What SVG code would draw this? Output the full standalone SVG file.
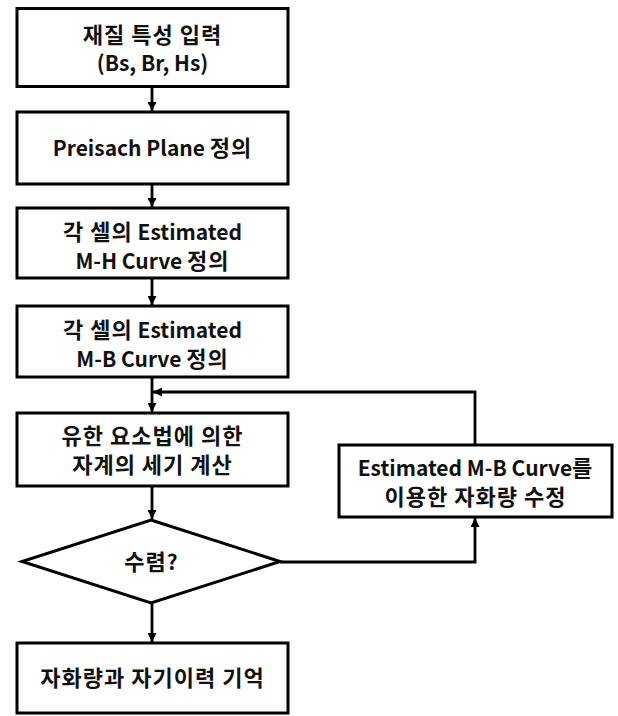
<svg xmlns="http://www.w3.org/2000/svg" width="618" height="716" viewBox="0 0 618 716">
<style>
.box{fill:#fff;stroke:#000;stroke-width:3}
.t{font-family:"Noto Sans CJK KR","Noto Sans",sans-serif;font-weight:bold;font-size:21px;fill:#111;text-anchor:middle}
.k{font-size:22px;letter-spacing:1px}
.c{fill:none;stroke:#000;stroke-width:2.8}
</style>
<defs>
<marker id="ah" viewBox="0 0 10 10" refX="10" refY="5" markerWidth="9" markerHeight="9" markerUnits="userSpaceOnUse" orient="auto">
<path d="M0,0 L10,5 L0,10 z" fill="#000"/>
</marker>
</defs>
<rect width="618" height="716" fill="#fff"/>
<g id="connectors">
<line class="c" x1="152" y1="87" x2="152" y2="111" marker-end="url(#ah)"/>
<line class="c" x1="152" y1="185" x2="152" y2="207" marker-end="url(#ah)"/>
<line class="c" x1="152" y1="279" x2="152" y2="305" marker-end="url(#ah)"/>
<line class="c" x1="152" y1="378" x2="152" y2="412" marker-end="url(#ah)"/>
<line class="c" x1="152" y1="487" x2="152" y2="519" marker-end="url(#ah)"/>
<line class="c" x1="152" y1="603" x2="152" y2="642" marker-end="url(#ah)"/>
<polyline class="c" points="280,562 475,562 475,518" marker-end="url(#ah)"/>
<polyline class="c" points="475,445 475,392 153,392" marker-end="url(#ah)"/>
</g>
<g id="n1">
<rect class="box" x="17" y="8.5" width="271" height="78"/>
<text class="t"><tspan class="k" x="152.5" y="42.5">재질 특성 입력</tspan><tspan x="152.5" y="71">(Bs, Br, Hs)</tspan></text>
</g>
<g id="n2">
<rect class="box" x="17" y="112" width="271" height="72"/>
<text class="t" x="152.5" y="156">Preisach Plane <tspan class="k">정의</tspan></text>
</g>
<g id="n3">
<rect class="box" x="17" y="208" width="271" height="70"/>
<text class="t"><tspan x="152.5" y="240"><tspan class="k">각 셀의</tspan> Estimated</tspan><tspan x="152.5" y="269">M-H Curve <tspan class="k">정의</tspan></tspan></text>
</g>
<g id="n4">
<rect class="box" x="17" y="306" width="271" height="71"/>
<text class="t"><tspan x="152.5" y="337.5"><tspan class="k">각 셀의</tspan> Estimated</tspan><tspan x="152.5" y="366.5">M-B Curve <tspan class="k">정의</tspan></tspan></text>
</g>
<g id="n5">
<rect class="box" x="17" y="413" width="271" height="73"/>
<text class="t k"><tspan x="152.5" y="443.5">유한 요소법에 의한</tspan><tspan x="152.5" y="472.5">자계의 세기 계산</tspan></text>
</g>
<g id="n6">
<polygon class="box" points="151,520 280,561.5 151,603 22,561.5"/>
<text class="t" x="151" y="570"><tspan class="k">수렴</tspan>?</text>
</g>
<g id="n7">
<rect class="box" x="17" y="643" width="271" height="70"/>
<text class="t k" x="152.5" y="686">자화량과 자기이력 기억</text>
</g>
<g id="n8">
<rect class="box" x="339" y="445" width="273" height="72"/>
<text class="t"><tspan x="475.5" y="475.5">Estimated M-B Curve<tspan class="k">를</tspan></tspan><tspan class="k" x="475.5" y="504.5">이용한 자화량 수정</tspan></text>
</g>
</svg>
